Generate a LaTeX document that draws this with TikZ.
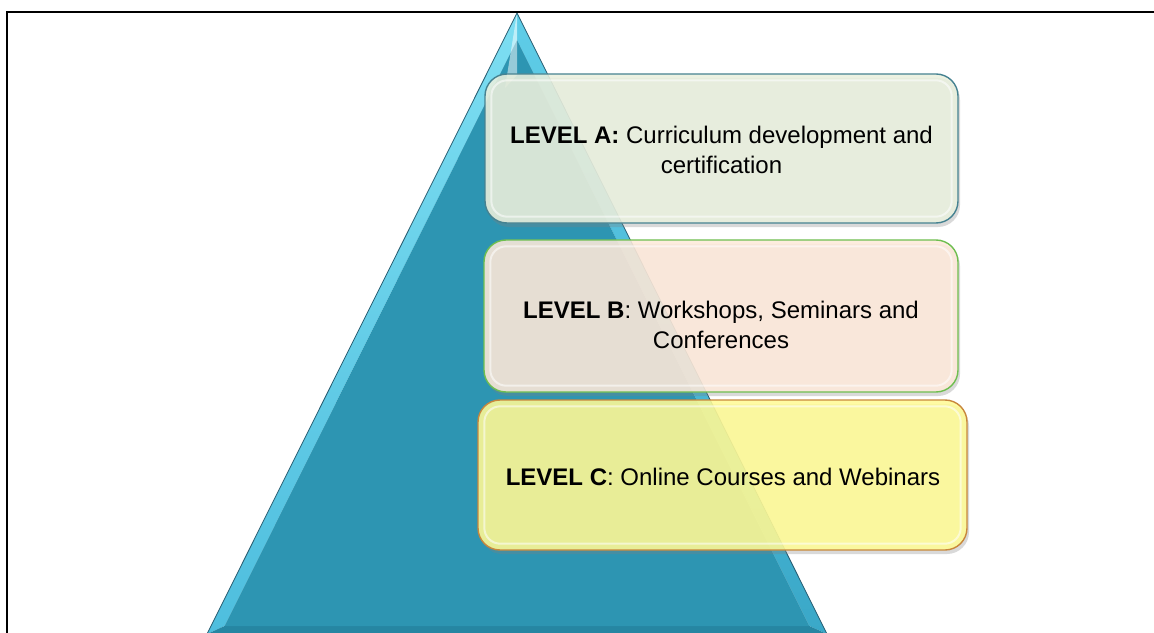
\documentclass[tikz,border=0pt]{standalone}
\usepackage{fontspec}
\setmainfont{Liberation Sans}
\usetikzlibrary{shadows}
\definecolor{trimain}{RGB}{45,149,178}
\definecolor{trileftT}{RGB}{125,222,242}
\definecolor{trileftB}{RGB}{78,190,222}
\definecolor{trirightT}{RGB}{95,205,232}
\definecolor{trirightB}{RGB}{58,168,200}
\definecolor{tribot}{RGB}{38,134,162}
\definecolor{trioutline}{RGB}{40,92,112}
\definecolor{afill}{RGB}{234,240,222}
\definecolor{aborder}{RGB}{70,130,145}
\definecolor{bfill}{RGB}{253,234,218}
\definecolor{bborder}{RGB}{110,190,80}
\definecolor{cfill}{RGB}{255,251,150}
\definecolor{cborder}{RGB}{200,135,60}
\begin{document}
\begin{tikzpicture}[x=1bp,y=-1bp,
  levelbox/.style={rounded corners=22bp, line width=1.4bp, fill opacity=0.88,
    inner sep=0pt,
    drop shadow={opacity=0.3, shadow xshift=2bp, shadow yshift=-4bp}},
  leveltext/.style={align=center, inner sep=0pt, anchor=north,
    font=\fontsize{24bp}{30bp}\selectfont},
  innerglow/.style={white, opacity=0.55, line width=2bp, rounded corners=16bp}]
\useasboundingbox (0,0) rectangle (1154,633);
\begin{scope}
\clip (0,0) rectangle (1154,633);
% pyramid
\coordinate (A) at (517,13);
\coordinate (L) at (207,634);
\coordinate (R) at (827,634);
\coordinate (a) at (517,40);
\coordinate (l) at (224.6,626);
\coordinate (r) at (809.4,626);
\shade[top color=trileftT, bottom color=trileftB] (A) -- (a) -- (l) -- (L) -- cycle;
\shade[top color=trirightT, bottom color=trirightB] (A) -- (R) -- (r) -- (a) -- cycle;
\fill[tribot] (L) -- (l) -- (r) -- (R) -- cycle;
\fill[trimain] (a) -- (l) -- (r) -- cycle;
\fill[white, opacity=0.5] (A) -- (517,75) -- (505,88) -- cycle;
\draw[trioutline, line width=0.8bp] (L) -- (A) -- (R);
\end{scope}
% frame
\draw[line width=2.8bp] (7,634) -- (7,12) -- (1156,12);
% level boxes
\node[levelbox, draw=aborder, fill=afill, minimum width=473bp, minimum height=149bp]
  (boxa) at (721.5,148.5) {};
\node[levelbox, draw=bborder, fill=bfill, minimum width=474bp, minimum height=152bp]
  (boxb) at (721,316) {};
\node[levelbox, draw=cborder, fill=cfill, minimum width=489bp, minimum height=150bp]
  (boxc) at (722.5,475) {};
\foreach \n in {boxa,boxb,boxc}
  \draw[innerglow] ([shift={(7,7)}]\n.north west) rectangle ([shift={(-7,-7)}]\n.south east);
\node[leveltext] (texta) at (721.5,125.5) {\textbf{LEVEL A:} Curriculum development and\\certification};
\node[leveltext] (textb) at (721,300.5) {\textbf{LEVEL B}: Workshops, Seminars and\\Conferences};
\node[leveltext] (textc) at (723,467.5) {\textbf{LEVEL C}: Online Courses and Webinars};
\end{tikzpicture}
\end{document}
